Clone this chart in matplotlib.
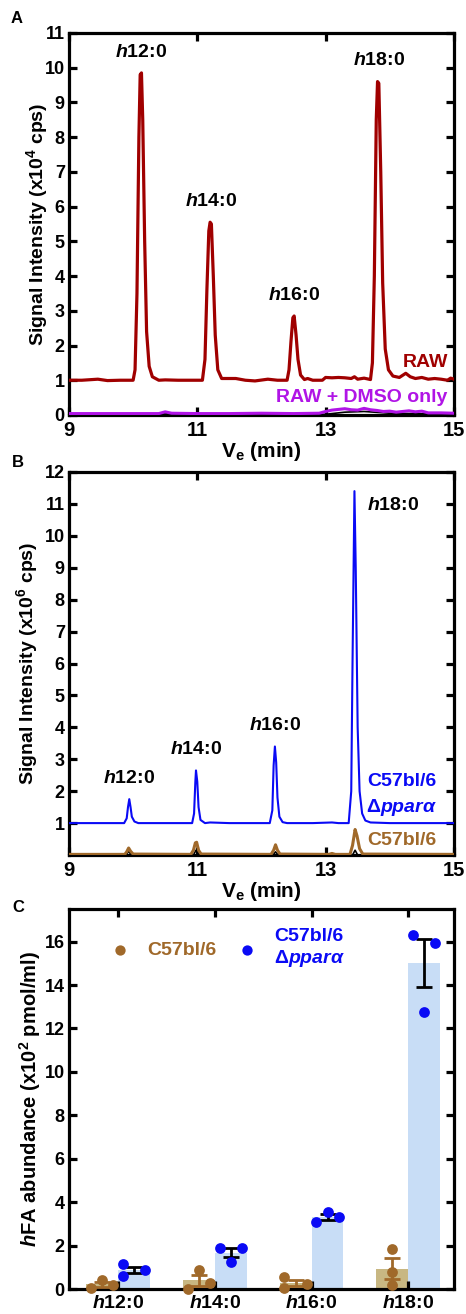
import matplotlib
matplotlib.use('Agg')
import matplotlib.pyplot as plt
import numpy as np

plt.rcParams['font.family'] = ['Liberation Sans', 'DejaVu Sans']
plt.rcParams['font.weight'] = 'bold'
plt.rcParams['mathtext.fontset'] = 'custom'
plt.rcParams['mathtext.rm'] = 'Liberation Sans:bold'
plt.rcParams['mathtext.it'] = 'Liberation Sans:italic'
plt.rcParams['mathtext.bf'] = 'Liberation Sans:bold'
if 'mathtext.bfit' in plt.rcParams:
    plt.rcParams['mathtext.bfit'] = 'Liberation Sans:bold:italic'
plt.rcParams['mathtext.default'] = 'regular'

# ---------------- Panel A data (RAW macrophages) ----------------
t_raw = [9.0, 9.2, 9.45, 9.6, 9.8, 10.0, 10.03, 10.06, 10.09, 10.11, 10.13, 10.15, 10.18, 10.21, 10.25,
         10.30, 10.40, 10.5, 10.7, 10.9, 11.08, 11.12, 11.15, 11.18, 11.20, 11.22, 11.25, 11.28, 11.32,
         11.38, 11.6, 11.75, 11.9, 12.1, 12.25, 12.40, 12.43, 12.46, 12.49, 12.51, 12.54, 12.57, 12.61,
         12.67, 12.72, 12.8, 12.95, 13.0, 13.1, 13.2, 13.3, 13.4, 13.45, 13.5, 13.6, 13.70, 13.73, 13.76,
         13.79, 13.81, 13.83, 13.86, 13.89, 13.93, 13.98, 14.05, 14.15, 14.25, 14.32, 14.4, 14.5,
         14.6, 14.7, 14.8, 14.9, 14.95, 15.0]
y_raw = [1.0, 1.0, 1.03, 0.99, 1.0, 1.0, 1.3, 3.5, 8.0, 9.8, 9.85, 8.5, 5.0, 2.4, 1.4,
         1.1, 1.0, 1.01, 1.0, 1.0, 1.0, 1.6, 3.6, 5.3, 5.55, 5.5, 4.0, 2.3, 1.3,
         1.05, 1.05, 1.0, 0.98, 1.03, 1.0, 1.0, 1.3, 2.1, 2.8, 2.85, 2.3, 1.6, 1.15,
         1.02, 1.05, 1.0, 1.0, 1.08, 1.07, 1.08, 1.07, 1.05, 1.1, 1.03, 1.06, 1.02, 1.5, 4.0,
         8.5, 9.6, 9.55, 7.0, 3.8, 1.9, 1.3, 1.12, 1.08, 1.2, 1.1, 1.05, 1.08,
         1.03, 1.05, 1.03, 1.0, 1.06, 1.03]
t_dmso = [9.0, 9.5, 10.0, 10.4, 10.5, 10.6, 11.0, 11.5, 12.0, 12.5, 12.9, 13.0, 13.1, 13.2, 13.3,
          13.4, 13.5, 13.6, 13.7, 13.8, 13.9, 14.0, 14.1, 14.2, 14.3, 14.4, 14.5, 14.6, 14.8, 15.0]
y_dmso = [0.04, 0.04, 0.04, 0.04, 0.09, 0.05, 0.04, 0.04, 0.05, 0.04, 0.05, 0.1, 0.14, 0.16, 0.18,
          0.15, 0.14, 0.19, 0.15, 0.13, 0.1, 0.11, 0.08, 0.1, 0.12, 0.09, 0.11, 0.06, 0.06, 0.05]
t_blankA = [9.0, 10.4, 10.5, 10.6, 12.0, 13.0, 13.3, 13.6, 14.0, 15.0]
y_blankA = [0.0, 0.0, 0.06, 0.0, 0.0, 0.02, 0.08, 0.1, 0.05, 0.02]
peak_names = ['12:0', '14:0', '16:0', '18:0']
peakA_t = [10.12, 11.21, 12.50, 13.82]
peakA_y = [9.85, 5.55, 2.85, 9.6]

# ---------------- Panel B data (mouse plasma) ----------------
t_ko = [9.0, 9.3, 9.6, 9.86, 9.90, 9.92, 9.94, 9.96, 9.98, 10.02, 10.08, 10.5, 10.92, 10.95, 10.97, 10.98,
        11.00, 11.02, 11.05, 11.12, 11.2, 11.5, 11.8, 12.13, 12.17, 12.19, 12.21, 12.23, 12.25, 12.28,
        12.33, 12.4, 12.8, 13.1, 13.2, 13.36, 13.40, 13.42, 13.45, 13.47, 13.50, 13.53, 13.57, 13.62,
        13.70, 14.0, 14.5, 15.0]
y_ko = [1.0, 1.0, 1.0, 1.0, 1.15, 1.5, 1.75, 1.5, 1.2, 1.05, 1.0, 1.0, 1.0, 1.3, 2.3, 2.65,
        2.3, 1.5, 1.1, 1.0, 1.02, 1.0, 1.0, 1.0, 1.4, 2.8, 3.4, 2.9, 1.8, 1.2,
        1.03, 1.0, 1.0, 1.02, 1.0, 1.0, 2.0, 6.0, 11.4, 9.0, 4.0, 2.0, 1.3, 1.08,
        1.02, 1.0, 1.0, 1.0]
t_wt = [9.0, 9.87, 9.90, 9.93, 9.96, 10.0, 10.9, 10.94, 10.97, 10.99, 11.02, 11.06, 12.15, 12.19, 12.22,
        12.25, 12.29, 13.05, 13.1, 13.15, 13.38, 13.42, 13.46, 13.49, 13.53, 13.58, 15.0]
y_wt = [0.02, 0.02, 0.1, 0.22, 0.12, 0.03, 0.02, 0.15, 0.38, 0.4, 0.15, 0.03, 0.02, 0.15, 0.32,
        0.15, 0.03, 0.02, 0.05, 0.02, 0.02, 0.3, 0.8, 0.6, 0.2, 0.03, 0.02]
t_blankB = [9.0, 9.89, 9.93, 9.97, 10.94, 10.98, 11.02, 12.18, 12.22, 12.26, 13.42, 13.46, 13.50, 15.0]
y_blankB = [0.0, 0.0, 0.12, 0.0, 0.0, 0.15, 0.0, 0.0, 0.1, 0.0, 0.0, 0.15, 0.0, 0.0]
peakB_t = [9.94, 10.98, 12.21, 13.45]
peakB_y = [1.75, 2.65, 3.4, 11.4]

# ---------------- Panel C data (hFA abundance, x10^2 pmol/ml) ----------------
categories = ['12:0', '14:0', '16:0', '18:0']
wt_vals = [[0.05, 0.40, 0.20], [0.02, 0.88, 0.30], [0.55, 0.03, 0.25], [1.85, 0.78, 0.20]]
ko_vals = [[1.15, 0.60, 0.88], [1.87, 1.25, 1.87], [3.10, 3.55, 3.30], [16.30, 15.93, 12.78]]
wt_jitter = [[-1, 0, 1], [-1, 0, 1], [-1, -1, 1], [0, 0, 0]]
ko_jitter = [[-1, -1, 1], [-1, 0, 1], [-1, 0, 1], [-1, 1, 0]]

RED = '#a00000'
PURPLE = '#b014e6'
BLUE = '#0a0af5'
BROWN = '#a0692a'
TAN = '#c8b782'
LIGHTBLUE = '#c8ddf6'
FS = 14       # annotation / axis label size
FSY = 13      # y tick label size
FSX = 14.5    # x tick label size

fig = plt.figure(figsize=(4.66, 13.14), dpi=100)
axA = fig.add_axes([0.148, 0.6842, 0.826, 0.2907])
axB = fig.add_axes([0.148, 0.3493, 0.826, 0.2915])
axC = fig.add_axes([0.148, 0.0190, 0.826, 0.2892])

def style(ax, xfs=FSX):
    for s in ax.spines.values():
        s.set_linewidth(2.3)
    ax.tick_params(direction='in', length=6, width=2.3, top=True, right=True)
    ax.tick_params(axis='y', labelsize=FSY, pad=3)
    ax.tick_params(axis='x', labelsize=xfs, pad=4)
    for lab in ax.get_xticklabels() + ax.get_yticklabels():
        lab.set_fontweight('bold')

def plabel(s):
    if 'mathtext.bfit' in plt.rcParams:
        return r'$\mathbfit{h}$' + s
    return r'$\mathit{h}$' + s

# ---- Panel A ----
axA.plot(t_blankA, y_blankA, color='black', lw=1.2, zorder=2)
axA.plot(t_dmso, y_dmso, color=PURPLE, lw=2.2, zorder=3)
axA.plot(t_raw, y_raw, color=RED, lw=2.3, zorder=4)
axA.set_xlim(9, 15)
axA.set_ylim(0, 11)
axA.set_xticks([9, 11, 13, 15])
axA.set_yticks(range(0, 12))
style(axA)
axA.set_xlabel(r'V$_{e}$ (min)', fontsize=15, fontweight='bold', labelpad=0)
axA.set_ylabel(r'Signal Intensity (x10$^{4}$ cps)', fontsize=FS, fontweight='bold')
axA.yaxis.set_label_coords(-0.049, 0.5)
for n, t, y in zip(peak_names, peakA_t, peakA_y):
    axA.text(t + 0.01, y + 0.6, plabel(n), ha='center', va='center', fontsize=FS, fontweight='bold')
axA.text(14.906, 1.5, 'RAW', color=RED, ha='right', va='center', fontsize=FS, fontweight='bold')
axA.text(14.906, 0.49, 'RAW + DMSO only', color=PURPLE, ha='right', va='center',
         fontsize=FS, fontweight='bold')
fig.text(0.036, 0.9863, 'A', fontsize=12, fontweight='bold', ha='center', va='center')

# ---- Panel B ----
axB.plot(t_blankB, y_blankB, color='black', lw=1.2, zorder=2)
axB.plot(t_wt, y_wt, color=BROWN, lw=2.2, zorder=3)
axB.plot(t_ko, y_ko, color=BLUE, lw=1.5, zorder=4)
axB.set_xlim(9, 15)
axB.set_ylim(0, 12)
axB.set_xticks([9, 11, 13, 15])
axB.set_yticks(range(1, 13))
style(axB)
axB.set_xlabel(r'V$_{e}$ (min)', fontsize=15, fontweight='bold', labelpad=0)
axB.set_ylabel(r'Signal Intensity (x10$^{6}$ cps)', fontsize=FS, fontweight='bold')
axB.yaxis.set_label_coords(-0.075, 0.5)
for n, t, y in zip(peak_names[:3], peakB_t[:3], peakB_y[:3]):
    axB.text(t, y + 0.65, plabel(n), ha='center', va='center', fontsize=FS, fontweight='bold')
axB.text(peakB_t[3] + 0.19, 10.94, plabel(peak_names[3]), ha='left', va='center',
         fontsize=FS, fontweight='bold')
axB.text(14.735, 2.31, 'C57bl/6', color=BLUE, ha='right', va='center', fontsize=FS, fontweight='bold')
axB.text(14.735, 1.5, r'$\Delta\mathbfit{ppar}\mathit{α}$', color=BLUE, ha='right', va='center',
         fontsize=FS, fontweight='bold')
axB.text(14.735, 0.44, 'C57bl/6', color=BROWN, ha='right', va='center', fontsize=FS, fontweight='bold')
fig.text(0.039, 0.6484, 'B', fontsize=12, fontweight='bold', ha='center', va='center')

# ---- Panel C ----
x = np.arange(len(categories))
w = 0.33
wt_mean = np.array([np.mean(v) for v in wt_vals])
ko_mean = np.array([np.mean(v) for v in ko_vals])
wt_sem = np.array([np.std(v, ddof=1) / np.sqrt(len(v)) for v in wt_vals])
ko_sem = np.array([np.std(v, ddof=1) / np.sqrt(len(v)) for v in ko_vals])
axC.bar(x - w / 2, wt_mean, width=w, color=TAN, zorder=1)
axC.bar(x + w / 2, ko_mean, width=w, color=LIGHTBLUE, zorder=1)
axC.errorbar(x - w / 2, wt_mean, yerr=wt_sem, fmt='none', ecolor=BROWN, elinewidth=2,
             capsize=5.5, capthick=2, zorder=3)
axC.errorbar(x + w / 2, ko_mean, yerr=ko_sem, fmt='none', ecolor='black', elinewidth=2,
             capsize=5.5, capthick=2, zorder=3)
jit = 0.115
for i in range(len(categories)):
    axC.scatter(x[i] - w / 2 + jit * np.array(wt_jitter[i]), wt_vals[i], s=60, color=BROWN,
                zorder=4, linewidths=0, clip_on=False)
    axC.scatter(x[i] + w / 2 + jit * np.array(ko_jitter[i]), ko_vals[i], s=60, color=BLUE,
                zorder=4, linewidths=0, clip_on=False)
axC.set_xlim(-0.505, 3.47)
axC.set_ylim(0, 17.5)
axC.set_yticks(range(0, 17, 2))
axC.set_xticks(x)
axC.set_xticklabels([r'$\mathit{h}$' + c for c in categories])
style(axC, xfs=FS)
axC.set_ylabel(r'$\mathbfit{h}$FA abundance (x10$^{2}$ pmol/ml)', fontsize=14.5, fontweight='bold')
axC.yaxis.set_label_coords(-0.068, 0.5)
h1 = axC.scatter([], [], s=55, color=BROWN, linewidths=0)
h2 = axC.scatter([], [], s=55, color=BLUE, linewidths=0)
axC.legend([h1, h2], ['C57bl/6', 'C57bl/6\n' + r'$\mathit{Δ}\mathbfit{ppar}\mathit{α}$'],
           ncol=2, frameon=False, loc='upper left', bbox_to_anchor=(0.107, 0.95),
           labelcolor=[BROWN, BLUE], prop={'size': FS, 'weight': 'bold'},
           handletextpad=0.89, columnspacing=1.1, handlelength=1.0, borderaxespad=0,
           borderpad=0)
fig.text(0.039, 0.3097, 'C', fontsize=12, fontweight='bold', ha='center', va='center')

fig.savefig('out.png', dpi=100)
